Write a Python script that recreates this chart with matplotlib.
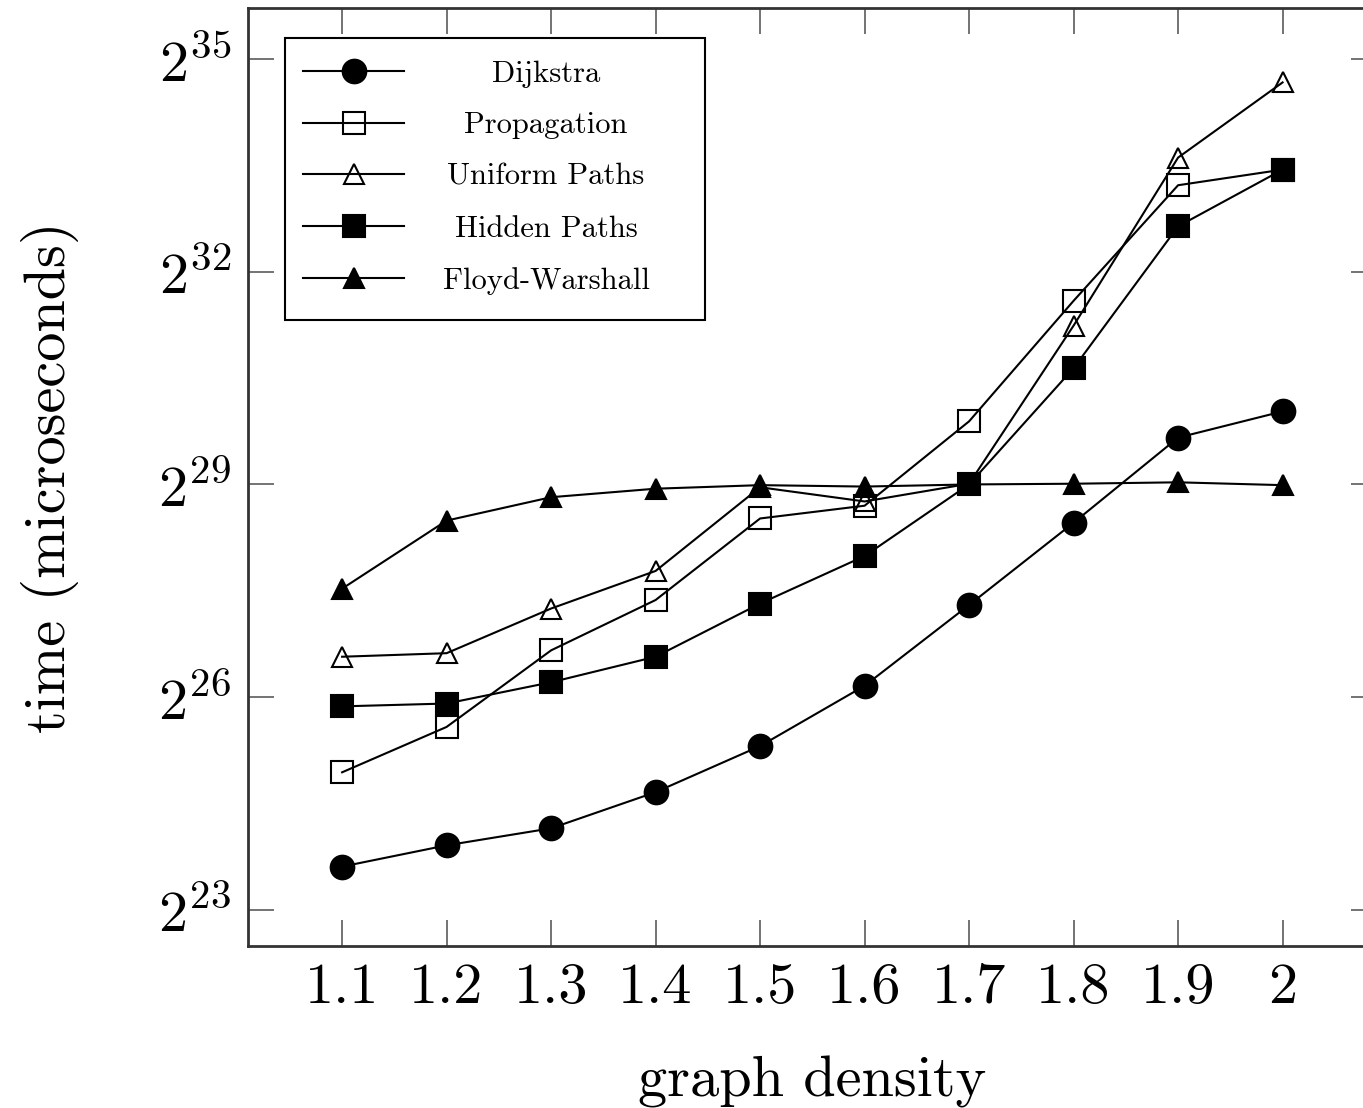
import matplotlib
matplotlib.use("Agg")
import matplotlib.pyplot as plt
from matplotlib.patches import Rectangle

plt.rcParams['font.family'] = ['cmr10', 'DejaVu Serif']
plt.rcParams['mathtext.fontset'] = 'cm'
plt.rcParams['axes.formatter.use_mathtext'] = True

# graph density
density = [1.1, 1.2, 1.3, 1.4, 1.5, 1.6, 1.7, 1.8, 1.9, 2.0]

# log2 of time in microseconds
dijkstra = [23.61, 23.91, 24.15, 24.66, 25.31, 26.16, 27.30, 28.46, 29.66, 30.03]
propagation = [24.94, 25.58, 26.66, 27.37, 28.52, 28.70, 29.89, 31.59, 33.22, 33.44]
uniform = [26.57, 26.62, 27.25, 27.78, 28.96, 28.76, 29.01, 31.24, 33.61, 34.67]
hidden = [25.87, 25.91, 26.21, 26.57, 27.32, 27.99, 29.00, 30.64, 32.64, 33.44]
floyd = [27.53, 28.49, 28.82, 28.94, 28.99, 28.97, 29.00, 29.01, 29.03, 28.99]

xticks = [1.1, 1.2, 1.3, 1.4, 1.5, 1.6, 1.7, 1.8, 1.9, 2.0]
xticklabels = ['1.1', '1.2', '1.3', '1.4', '1.5', '1.6', '1.7', '1.8', '1.9', '2']
yexp = [23, 26, 29, 32, 35]

fig = plt.figure(figsize=(13.63, 11.08), dpi=100)
ax = fig.add_axes([0.182, 0.1462, 0.828, 0.8466])
ax.set_yscale('log', base=2)

series = [
    ('Dijkstra', dijkstra, 'o', 'k', 17),
    ('Propagation', propagation, 's', 'none', 16),
    ('Uniform Paths', uniform, '^', 'none', 14),
    ('Hidden Paths', hidden, 's', 'k', 16),
    ('Floyd-Warshall', floyd, '^', 'k', 14),
]
for name, vals, m, fc, ms in series:
    ax.plot(density, [2 ** v for v in vals], color='k', lw=1.5, marker=m,
            markersize=ms, markerfacecolor=fc, markeredgecolor='k',
            markeredgewidth=1.5, label=name)

ax.set_xlim(1.01, 2.09)
ax.set_ylim(2 ** 22.49, 2 ** 35.72)
ax.set_xticks(xticks)
ax.set_xticklabels(xticklabels, fontsize=42)
ax.set_yticks([2 ** e for e in yexp])
ax.set_yticklabels([r'$2^{%d}$' % e for e in yexp], fontsize=42)
ax.minorticks_off()
ax.tick_params(direction='in', length=19, width=1.4, color='0.45',
               top=True, right=True, pad=12)
for s in ax.spines.values():
    s.set_linewidth(2)
    s.set_color('0.2')

ax.set_xlabel('graph density', fontsize=42, labelpad=30)
ax.set_ylabel('time (microseconds)', fontsize=42, labelpad=57)

# legend: handles from matplotlib, frame drawn as a fixed box
axw, axh = 0.828 * 1363, 0.8466 * 1108
leg = ax.legend(loc='upper left',
                bbox_to_anchor=((285 - 248) / axw, (946 - 42) / axh),
                borderaxespad=0, fontsize=22, frameon=False,
                handlelength=3.3, handletextpad=0.45, borderpad=0.6,
                labelspacing=0.79)
ax.add_patch(Rectangle(((285 - 248) / axw, (946 - 320) / axh),
                       (705 - 285) / axw, (320 - 38) / axh,
                       transform=ax.transAxes, fill=False, lw=1.5,
                       edgecolor='k', zorder=5))

# centre legend labels around a common column centre
fig.canvas.draw()
r = fig.canvas.get_renderer()
centre = 546
for t in leg.get_texts():
    bb = t.get_window_extent(r)
    x0, y0 = t.get_position()
    t.set_position((x0 + centre - (bb.x0 + bb.x1) / 2, y0))

fig.savefig('out.png', dpi=100)
